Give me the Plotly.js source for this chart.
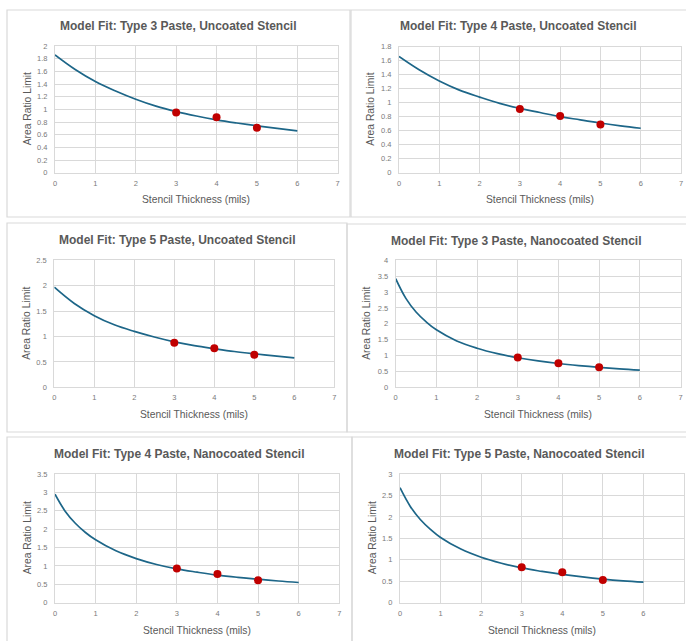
<!DOCTYPE html>
<html><head><meta charset="utf-8">
<script src="https://cdn.plot.ly/plotly-3.0.1.min.js"></script>
<style>html,body{margin:0;padding:0;background:#fff;}#chart{width:686px;height:641px;}</style>
</head><body><div id="chart"></div>
<script>
// ---- data ----
const thicknessFit = [0,0.5,1,1.5,2,2.5,3,3.5,4,4.5,5,5.5,6];
const thicknessFitNano = [0,0.25,0.5,0.75,1,1.5,2,2.5,3,3.5,4,4.5,5,5.5,6];
const thicknessMeasured = [3,4,5];

const fitType3Uncoated = [1.86,1.63,1.44,1.29,1.16,1.05,0.965,0.895,0.835,0.785,0.74,0.70,0.66];
const fitType4Uncoated = [1.66,1.47,1.31,1.18,1.08,0.99,0.92,0.86,0.80,0.755,0.71,0.67,0.635];
const fitType5Uncoated = [1.97,1.65,1.41,1.23,1.10,0.99,0.895,0.82,0.76,0.705,0.66,0.62,0.58];
const fitType3Nano = [3.42,2.80,2.37,2.06,1.81,1.46,1.23,1.06,0.93,0.83,0.75,0.685,0.63,0.58,0.54];
const fitType4Nano = [2.95,2.49,2.16,1.91,1.71,1.41,1.20,1.04,0.92,0.83,0.75,0.69,0.64,0.59,0.55];
const fitType5Nano = [2.68,2.25,1.94,1.71,1.52,1.25,1.06,0.92,0.81,0.73,0.66,0.60,0.55,0.51,0.48];

const measType3Uncoated = [0.95,0.875,0.71];
const measType4Uncoated = [0.91,0.81,0.69];
const measType5Uncoated = [0.875,0.77,0.64];
const measType3Nano = [0.94,0.76,0.63];
const measType4Nano = [0.93,0.78,0.61];
const measType5Nano = [0.825,0.71,0.53];

const chartTitles = [
  "Model Fit: Type 3 Paste, Uncoated Stencil",
  "Model Fit: Type 4 Paste, Uncoated Stencil",
  "Model Fit: Type 5 Paste, Uncoated Stencil",
  "Model Fit: Type 3 Paste, Nanocoated Stencil",
  "Model Fit: Type 4 Paste, Nanocoated Stencil",
  "Model Fit: Type 5 Paste, Nanocoated Stencil"
];
const xTitle = "Stencil Thickness (mils)";
const yTitle = "Area Ratio Limit";
const yMax = [2,1.8,2.5,4,3.5,3];
const yStep = [0.2,0.2,0.5,0.5,0.5,0.5];

// ---- layout geometry (pixels) ----
const W = 686, H = 641;
const panels = [
  {fit: fitType3Uncoated, fx: thicknessFit, meas: measType3Uncoated,
   plot: [55,337.7,46,172.7], frame: [7,350,10,217], titleY: 26, xtY: 199, ytX: 27},
  {fit: fitType4Uncoated, fx: thicknessFit, meas: measType4Uncoated,
   plot: [399,681,46.7,172.7], frame: [351,690,10,217], titleY: 26, xtY: 199, ytX: 371},
  {fit: fitType5Uncoated, fx: thicknessFit, meas: measType5Uncoated,
   plot: [54.3,334.3,260.3,387.3], frame: [7,347,223,432], titleY: 240, xtY: 414, ytX: 27},
  {fit: fitType3Nano, fx: thicknessFitNano, meas: measType3Nano,
   plot: [395.7,680.5,260.3,387.3], frame: [347,690,224,432], titleY: 241, xtY: 414, ytX: 367},
  {fit: fitType4Nano, fx: thicknessFitNano, meas: measType4Nano,
   plot: [55,339.3,474,602.7], frame: [7,352,437,650], titleY: 454, xtY: 630, ytX: 27},
  {fit: fitType5Nano, fx: thicknessFitNano, meas: measType5Nano,
   plot: [400,684,474,602.7], frame: [352,690,437,650], titleY: 454, xtY: 630, ytX: 372}
];
const fx = p => p / W;
const fy = p => 1 - p / H;

const FONT = '"Liberation Sans", Arial, sans-serif';
const gray = '#595959';
const lineColor = '#1d6688';
const dotColor = '#c00000';
const gridColor = '#d9d9d9';

const traces = [];
const layout = {
  width: W, height: H, margin: {l:0,r:0,t:0,b:0},
  paper_bgcolor: '#fff', plot_bgcolor: '#fff', showlegend: false,
  annotations: [], shapes: []
};

panels.forEach((p, i) => {
  const n = i + 1;
  const xa = 'x' + (n === 1 ? '' : n), ya = 'y' + (n === 1 ? '' : n);
  traces.push({x: p.fx, y: p.fit, xaxis: xa, yaxis: ya, type: 'scatter', mode: 'lines',
    line: {color: lineColor, width: 1.7, shape: 'spline', smoothing: 1.1}, hoverinfo: 'skip'});
  traces.push({x: thicknessMeasured, y: p.meas, xaxis: xa, yaxis: ya, type: 'scatter', mode: 'markers',
    marker: {color: dotColor, size: 8}, hoverinfo: 'skip'});
  const common = {showgrid: true, gridcolor: gridColor, gridwidth: 1, zeroline: false,
    showline: true, linecolor: gridColor, linewidth: 1, mirror: true,
    tickfont: {family: FONT, size: 7.5, color: '#7a7a7a'}, fixedrange: true,
    ticks: 'outside', tickcolor: 'rgba(0,0,0,0)'};
  layout['xaxis' + (n === 1 ? '' : n)] = Object.assign({}, common, {
    domain: [fx(p.plot[0]), fx(p.plot[1])], anchor: ya,
    range: [0, 7], dtick: 1, tick0: 0, ticklen: 3
  });
  layout['yaxis' + (n === 1 ? '' : n)] = Object.assign({}, common, {
    domain: [fy(p.plot[3]), fy(p.plot[2])], anchor: xa,
    range: [0, yMax[i]], dtick: yStep[i], tick0: 0, ticklen: 5
  });
  layout.shapes.push({type: 'rect', xref: 'paper', yref: 'paper',
    x0: fx(p.frame[0]), x1: fx(p.frame[1]), y0: fy(p.frame[3]), y1: fy(p.frame[2]),
    line: {color: gridColor, width: 1.2}, fillcolor: 'rgba(0,0,0,0)', layer: 'below'});
  layout.annotations.push({text: '<b>' + chartTitles[i] + '</b>', xref: 'paper', yref: 'paper',
    x: fx((p.frame[0] + Math.min(p.frame[1], W)) / 2), y: fy(p.titleY), xanchor: 'center', yanchor: 'middle',
    showarrow: false, font: {family: FONT, size: 12, color: gray}});
  layout.annotations.push({text: xTitle, xref: 'paper', yref: 'paper',
    x: fx((p.plot[0] + p.plot[1]) / 2), y: fy(p.xtY), xanchor: 'center', yanchor: 'middle',
    showarrow: false, font: {family: FONT, size: 10.3, color: gray}});
  layout.annotations.push({text: yTitle, xref: 'paper', yref: 'paper', textangle: -90,
    x: fx(p.ytX), y: fy((p.plot[2] + p.plot[3]) / 2), xanchor: 'center', yanchor: 'middle',
    showarrow: false, font: {family: FONT, size: 10.3, color: gray}});
});

Plotly.newPlot('chart', traces, layout, {staticPlot: true, displayModeBar: false});
</script></body></html>
